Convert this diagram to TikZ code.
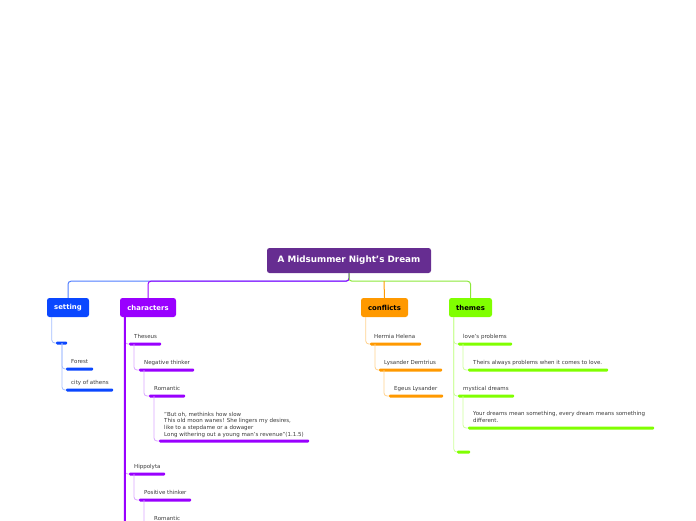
\documentclass[tikz,border=0pt]{standalone}
\usepackage{fontspec}
\setmainfont{DejaVu Sans}
\usetikzlibrary{positioning}
\definecolor{mmRoot}{HTML}{662D91}
\definecolor{mmBlue}{HTML}{0A47FF}
\definecolor{mmBlueLine}{HTML}{4F7DFF}
\definecolor{mmBlueLight}{HTML}{A3BDFF}
\definecolor{mmPurple}{HTML}{9900FF}
\definecolor{mmPurpleLight}{HTML}{D9A6FF}
\definecolor{mmOrange}{HTML}{FF9900}
\definecolor{mmOrangeLight}{HTML}{FFD28F}
\definecolor{mmGreen}{HTML}{80FF00}
\definecolor{mmGreenLine}{HTML}{8CE83A}
\definecolor{mmGreenLight}{HTML}{CCFF99}
\definecolor{mmText}{HTML}{3A3A3A}
\begin{document}
\begin{tikzpicture}[
    x=1pt, y=-1pt,
    topic/.style={rounded corners=2.5pt, inner sep=0pt, minimum height=19pt, font=\fontsize{6.9}{8}\selectfont\bfseries},
    bar/.style={fill=#1, inner sep=0pt, minimum height=3pt, rounded corners=1pt, anchor=west},
    lbl/.style={inner sep=0pt, text depth=0pt, text=mmText, font=\fontsize{5.5}{6.7}\selectfont, align=left},
    link/.style={draw=#1, line width=0.8pt, rounded corners=3pt}
]
\useasboundingbox (0,0) rectangle (696,520);
\clip (0,0) rectangle (696,520);
% main topics
\node[topic, fill=mmRoot, text=white, minimum width=164pt, minimum height=25pt, font=\fontsize{8.8}{10}\selectfont\bfseries] (root) at (349,260.5) {A Midsummer Night’s Dream};
\node[topic, fill=mmBlue, text=white, minimum width=42pt] (setting) at (68,307.5) {setting};
\node[topic, fill=mmPurple, text=white, minimum width=56pt] (characters) at (148,307.5) {characters};
\node[topic, fill=mmOrange, text=black, minimum width=47pt] (conflicts) at (384.5,307.5) {conflicts};
\node[topic, fill=mmGreen, text=black, minimum width=43pt] (themes) at (470.5,307.5) {themes};
\draw[link=mmBlueLine, line width=1pt] (root.south) -- ++(0,8) -| (setting.north);
\draw[link=mmPurple, line width=1pt] (root.south) -- ++(0,8) -| (characters.north);
\draw[link=mmGreenLine, line width=1pt] (root.south) -- ++(0,8) -| (themes.north);
\draw[link=mmOrange, line width=1pt] ([xshift=35pt, yshift=-8pt]root.south) -- (conflicts.north);
% setting
\node[bar=mmBlue, minimum width=11pt] (sethub) at (56,343) {};
\node[bar=mmBlue, minimum width=27pt] (forest) at (66,369) {};
\node[bar=mmBlue, minimum width=47pt] (athens) at (66,390) {};
\node[lbl, above right=3.5pt and 5pt of forest.north west] (forestT) {Forest};
\node[lbl, above right=3.5pt and 5pt of athens.north west] (athensT) {city of athens};
\draw[link=mmBlueLight] ([xshift=5pt]setting.south west) |- (sethub.west);
\draw[link=mmBlueLight] ([xshift=6pt]sethub.west) |- (forest.west);
\draw[link=mmBlueLight] ([xshift=6pt]sethub.west) |- (athens.west);
% characters
\coordinate (charend) at (125,530);
\node[bar=mmPurple, minimum width=32pt] (theseus) at (129,344) {};
\node[bar=mmPurple, minimum width=55pt] (negative) at (139,370) {};
\node[bar=mmPurple, minimum width=36pt] (romA) at (149,396) {};
\node[bar=mmPurple, minimum width=150pt] (quote) at (159,441) {};
\node[bar=mmPurple, minimum width=36pt] (hippolyta) at (129,474) {};
\node[bar=mmPurple, minimum width=52pt] (positive) at (139,500) {};
\node[bar=mmPurple, minimum width=36pt] (romB) at (149,526) {};
\node[lbl, above right=3.5pt and 5pt of theseus.north west] (theseusT) {Theseus};
\node[lbl, above right=3.5pt and 5pt of negative.north west] (negativeT) {Negative thinker};
\node[lbl, above right=3.5pt and 5pt of romA.north west] (romAT) {Romantic};
\node[lbl, above right=3pt and 5pt of quote.north west] (quoteT) {"But oh, methinks how slow\\This old moon wanes! She lingers my desires,\\like to a stepdame or a dowager\\Long withering out a young man's revenue"(1.1.5)};
\node[lbl, above right=3.5pt and 5pt of hippolyta.north west] (hippolytaT) {Hippolyta};
\node[lbl, above right=3.5pt and 5pt of positive.north west] (positiveT) {Positive thinker};
\node[lbl, above right=3.5pt and 5pt of romB.north west] (romBT) {Romantic};
\draw[link=mmPurpleLight] ([xshift=5pt]characters.south west) |- (theseus.west);
\draw[link=mmPurpleLight] ([xshift=5pt]characters.south west) |- (hippolyta.west);
\draw[link=mmPurpleLight] ([xshift=5pt]theseus.west) |- (negative.west);
\draw[link=mmPurpleLight] ([xshift=5pt]negative.west) |- (romA.west);
\draw[link=mmPurpleLight] ([xshift=5pt]romA.west) |- (quote.west);
\draw[link=mmPurpleLight] ([xshift=5pt]hippolyta.west) |- (positive.west);
\draw[link=mmPurpleLight] ([xshift=5pt]positive.west) |- (romB.west);
\draw[draw=mmPurple, line width=2pt] ([xshift=5pt]characters.south west) -- (charend);
% conflicts
\node[bar=mmOrange, minimum width=51pt] (hermia) at (370,344) {};
\node[bar=mmOrange, minimum width=63pt] (lysander) at (379,370) {};
\node[bar=mmOrange, minimum width=54pt] (egeus) at (389,396) {};
\node[lbl, above right=3.5pt and 4pt of hermia.north west] (hermiaT) {Hermia Helena};
\node[lbl, above right=3.5pt and 5pt of lysander.north west] (lysanderT) {Lysander Demtrius};
\node[lbl, above right=3.5pt and 5pt of egeus.north west] (egeusT) {Egeus Lysander};
\draw[link=mmOrangeLight] ([xshift=5pt]conflicts.south west) |- (hermia.west);
\draw[link=mmOrangeLight] ([xshift=5pt]hermia.west) |- (lysander.west);
\draw[link=mmOrangeLight] ([xshift=5pt]lysander.west) |- (egeus.west);
% themes
\node[bar=mmGreen, minimum width=54pt] (love) at (458,344) {};
\node[bar=mmGreen, minimum width=140pt] (always) at (468,370) {};
\node[bar=mmGreen, minimum width=56pt] (mystical) at (458,396) {};
\node[bar=mmGreen, minimum width=186pt] (meaning) at (468,428) {};
\node[bar=mmGreen, minimum width=13pt] (themeend) at (457,452) {};
\node[lbl, above right=3.5pt and 5pt of love.north west] (loveT) {love's problems};
\node[lbl, above right=3.5pt and 5pt of always.north west] (alwaysT) {Theirs always problems when it comes to love.};
\node[lbl, above right=3.5pt and 5pt of mystical.north west] (mysticalT) {mystical dreams};
\node[lbl, above right=3.5pt and 5pt of meaning.north west] (meaningT) {Your dreams mean something, every dream means something\\different.};
\draw[link=mmGreenLight] ([xshift=5pt]themes.south west) |- (love.west);
\draw[link=mmGreenLight] ([xshift=5pt]themes.south west) |- (mystical.west);
\draw[link=mmGreenLight] ([xshift=5pt]themes.south west) |- (themeend.west);
\draw[link=mmGreenLight] ([xshift=5pt]love.west) |- (always.west);
\draw[link=mmGreenLight] ([xshift=5pt]mystical.west) |- (meaning.west);
\end{tikzpicture}
\end{document}
